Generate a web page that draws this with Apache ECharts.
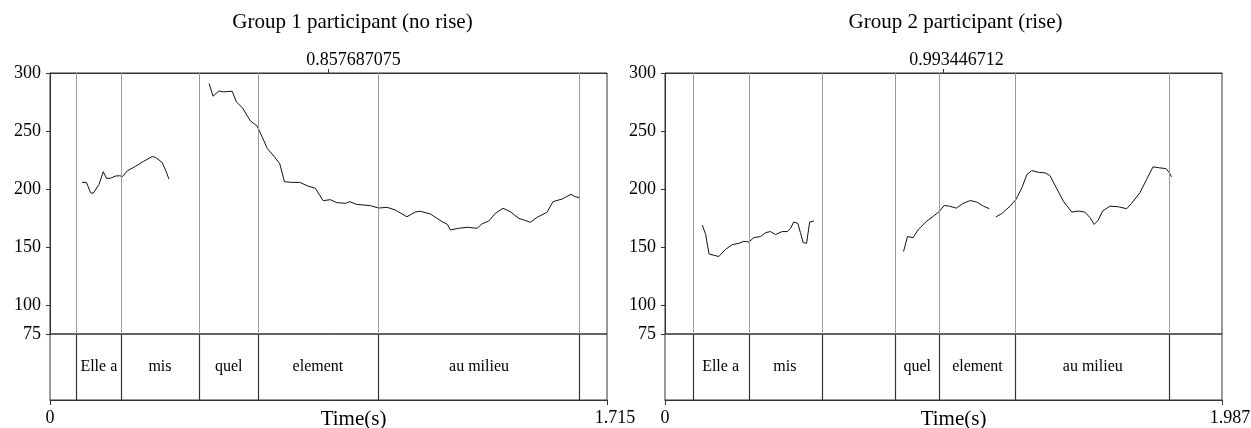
<!DOCTYPE html>
<html>
<head>
<meta charset="utf-8">
<script src="https://cdn.jsdelivr.net/npm/echarts@6/dist/echarts.min.js"></script>
<style>html,body{margin:0;padding:0;background:#fff}#c{width:1251px;height:428px}</style>
</head>
<body>
<div id="c"></div>
<script>
// ---------- data ----------
const titles = ['Group 1 participant (no rise)', 'Group 2 participant (rise)'];
const durations = [1.715, 1.987];
const midLabels = [0.857687075, 0.993446712];
const yTickLabels = [75, 100, 150, 200, 250, 300];

// word boundaries (s)
const bounds1 = [0.0846, 0.216, 0.461, 0.640, 1.010, 1.632];
const bounds2 = [0.0986, 0.298, 0.557, 0.8215, 0.978, 1.2513, 1.801];
// tier intervals
const words1 = ['', 'Elle a', 'mis', 'quel', 'element', 'au milieu', ''];
const words2 = ['', 'Elle a', 'mis', '', 'quel', 'element', 'au milieu', ''];

// pitch (Hz) segments, [time, f0]
const g1seg1 = [[0.099,205.7],[0.112,205.7],[0.125,196.8],[0.133,196.3],[0.151,204],[0.164,214.9],[0.174,209.2],[0.186,209.2],[0.202,211.2],[0.215,211.4],[0.223,210.6],[0.238,215.7],[0.263,219.5],[0.289,224],[0.315,228],[0.325,227.2],[0.345,223],[0.358,214.9],[0.366,208.6]];
const g1seg2 = [[0.490,290.9],[0.502,280],[0.520,284.5],[0.535,283.7],[0.561,284.3],[0.574,275],[0.592,270.2],[0.617,258.7],[0.638,254.2],[0.653,245],[0.669,235],[0.689,228.4],[0.707,222.1],[0.722,206.3],[0.745,205.7],[0.769,205.7],[0.792,202.8],[0.817,200.6],[0.841,189.9],[0.863,190.8],[0.884,188.2],[0.910,187.7],[0.923,189.1],[0.943,186.8],[0.987,185.6],[1.012,183.6],[1.038,184.2],[1.063,181.9],[1.099,176.1],[1.125,180.2],[1.140,180.8],[1.171,178.5],[1.207,171.9],[1.223,169.6],[1.233,164.7],[1.258,166.1],[1.284,167],[1.315,166.1],[1.330,169.9],[1.351,172.4],[1.371,179],[1.395,183.4],[1.417,180.5],[1.443,174.8],[1.479,171.3],[1.500,175.6],[1.530,179.9],[1.549,189.1],[1.577,191.4],[1.604,195.4],[1.617,193.4],[1.630,192.5]];
const g2seg1 = [[0.133,168.9],[0.145,160.9],[0.157,144],[0.174,142.9],[0.192,141.8],[0.216,148],[0.240,152],[0.264,153.2],[0.281,154.9],[0.299,154.3],[0.317,158.1],[0.341,159],[0.359,162.4],[0.376,163.3],[0.394,160.7],[0.418,163.3],[0.436,163.3],[0.448,166.1],[0.459,171.5],[0.474,170.4],[0.483,162.4],[0.493,153.8],[0.505,153.2],[0.516,171.5],[0.531,172.4]];
const g2seg2 = [[0.851,146.1],[0.865,159],[0.885,158.1],[0.904,165.2],[0.934,172.4],[0.958,176.7],[0.978,180.4],[0.996,185.8],[1.015,185.2],[1.039,183.5],[1.063,187.5],[1.089,190.1],[1.112,188.7],[1.136,185.2],[1.157,183]];
const g2seg3 = [[1.180,175.8],[1.201,178.7],[1.231,185.2],[1.252,191],[1.273,201],[1.291,212.4],[1.308,215.9],[1.332,214.4],[1.356,213.9],[1.373,211.6],[1.395,201.5],[1.421,189.5],[1.451,180.1],[1.474,181],[1.498,180.1],[1.516,175.3],[1.531,169.5],[1.545,173],[1.561,181],[1.587,185.2],[1.617,184.7],[1.647,183],[1.664,187.5],[1.694,196.7],[1.718,208.2],[1.741,219.1],[1.765,218.2],[1.787,217.6],[1.798,214.4],[1.807,210.5]];

// ---------- layout / style ----------
const FONT = "'Liberation Serif','Times New Roman',serif";
const DARK = '#333';
const GRAY = '#9a9a9a';
const panels = [
  {left: 50, width: 557, titleDx: 24, labelPad: 50, namePad: 50, segs: [g1seg1, g1seg2], bounds: bounds1, words: words1},
  {left: 665, width: 557, titleDx: 12, labelPad: 26, namePad: 20, segs: [g2seg1, g2seg2, g2seg3], bounds: bounds2, words: words2}
];
const TOP = 73, PH = 261, TH = 66;

const grid = [], xAxis = [], yAxis = [], series = [], graphic = [];
panels.forEach((p, i) => {
  const dur = durations[i];
  const gTop = grid.length;
  const gBase = {left: p.left, width: p.width, show: true, borderColor: DARK, borderWidth: 1,
    backgroundColor: 'transparent', containLabel: false, outerBoundsMode: 'none'};
  grid.push(Object.assign({top: TOP, height: PH}, gBase));
  grid.push(Object.assign({top: TOP + PH, height: TH}, gBase));
  // top panel axes
  xAxis.push({
    gridIndex: gTop, type: 'value', position: 'top', min: 0, max: dur,
    axisLine: {lineStyle: {color: DARK}},
    axisTick: {customValues: [midLabels[i]], length: 4, lineStyle: {color: DARK}},
    axisLabel: {customValues: [midLabels[i]], formatter: v => String(midLabels[i]), margin: 4,
      fontFamily: FONT, fontSize: 18, color: '#000', padding: [0, 0, 0, p.labelPad]},
    splitLine: {show: false}
  });
  yAxis.push({
    gridIndex: gTop, type: 'value', min: 75, max: 300, interval: 25,
    axisLine: {show: true, lineStyle: {color: DARK}},
    axisTick: {show: true, customValues: yTickLabels, length: 4, lineStyle: {color: DARK}},
    axisLabel: {customValues: yTickLabels, margin: 9, fontFamily: FONT, fontSize: 18, color: '#000'},
    splitLine: {show: false}
  });
  // tier axes
  xAxis.push({
    gridIndex: gTop + 1, type: 'value', position: 'bottom', min: 0, max: dur,
    axisLine: {lineStyle: {color: DARK}},
    axisTick: {customValues: [0, dur], length: 5, lineStyle: {color: DARK}},
    axisLabel: {customValues: [0, dur], margin: 9, fontFamily: FONT, fontSize: 18, color: '#000',
      formatter: v => (v === dur ? '{e|' + v + '}' : String(v)),
      rich: {e: {fontFamily: FONT, fontSize: 18, color: '#000', padding: [0, 0, 0, 16]}}},
    splitLine: {show: false},
    name: 'Time(s)', nameLocation: 'middle', nameGap: 9, nameMoveOverlap: false,
    nameTextStyle: {fontFamily: FONT, fontSize: 21, color: '#000', padding: [0, 0, 0, p.namePad]}
  });
  yAxis.push({gridIndex: gTop + 1, type: 'value', min: 0, max: 1, show: false});

  const xi = xAxis.length - 2, yi = yAxis.length - 2;
  // boundary lines in pitch area
  series.push({
    type: 'line', xAxisIndex: xi, yAxisIndex: yi, data: [], silent: true,
    markLine: {symbol: 'none', silent: true, animation: false, label: {show: false},
      lineStyle: {color: GRAY, width: 1, type: 'solid'},
      data: p.bounds.map(b => ({xAxis: b}))}
  });
  // pitch segments
  p.segs.forEach(seg => series.push({
    type: 'line', xAxisIndex: xi, yAxisIndex: yi, data: seg, showSymbol: false, symbol: 'none',
    lineStyle: {color: '#111', width: 1}, animation: false, silent: true
  }));
  // tier
  const edges = [0].concat(p.bounds, [dur]);
  series.push({
    type: 'line', xAxisIndex: xi + 1, yAxisIndex: yi + 1, data: [], silent: true,
    markLine: {symbol: 'none', silent: true, animation: false, label: {show: false},
      lineStyle: {color: DARK, width: 1.2, type: 'solid'},
      data: p.bounds.map(b => ({xAxis: b}))},
    markArea: {silent: true, animation: false, itemStyle: {color: 'rgba(0,0,0,0)'},
      label: {show: true, position: 'inside', fontFamily: FONT, fontSize: 16, color: '#000'},
      data: p.words.map((w, k) => [{xAxis: edges[k], name: w}, {xAxis: edges[k + 1]}])}
  });
  // title
  graphic.push({type: 'text', x: p.left + p.width / 2 + p.titleDx, y: 22,
    style: {text: titles[i], fontFamily: FONT, fontSize: 21, fill: '#000', align: 'center', verticalAlign: 'middle'}});
});

const chart = echarts.init(document.getElementById('c'));
chart.setOption({animation: false, grid, xAxis, yAxis, series, graphic});
</script>
</body>
</html>
